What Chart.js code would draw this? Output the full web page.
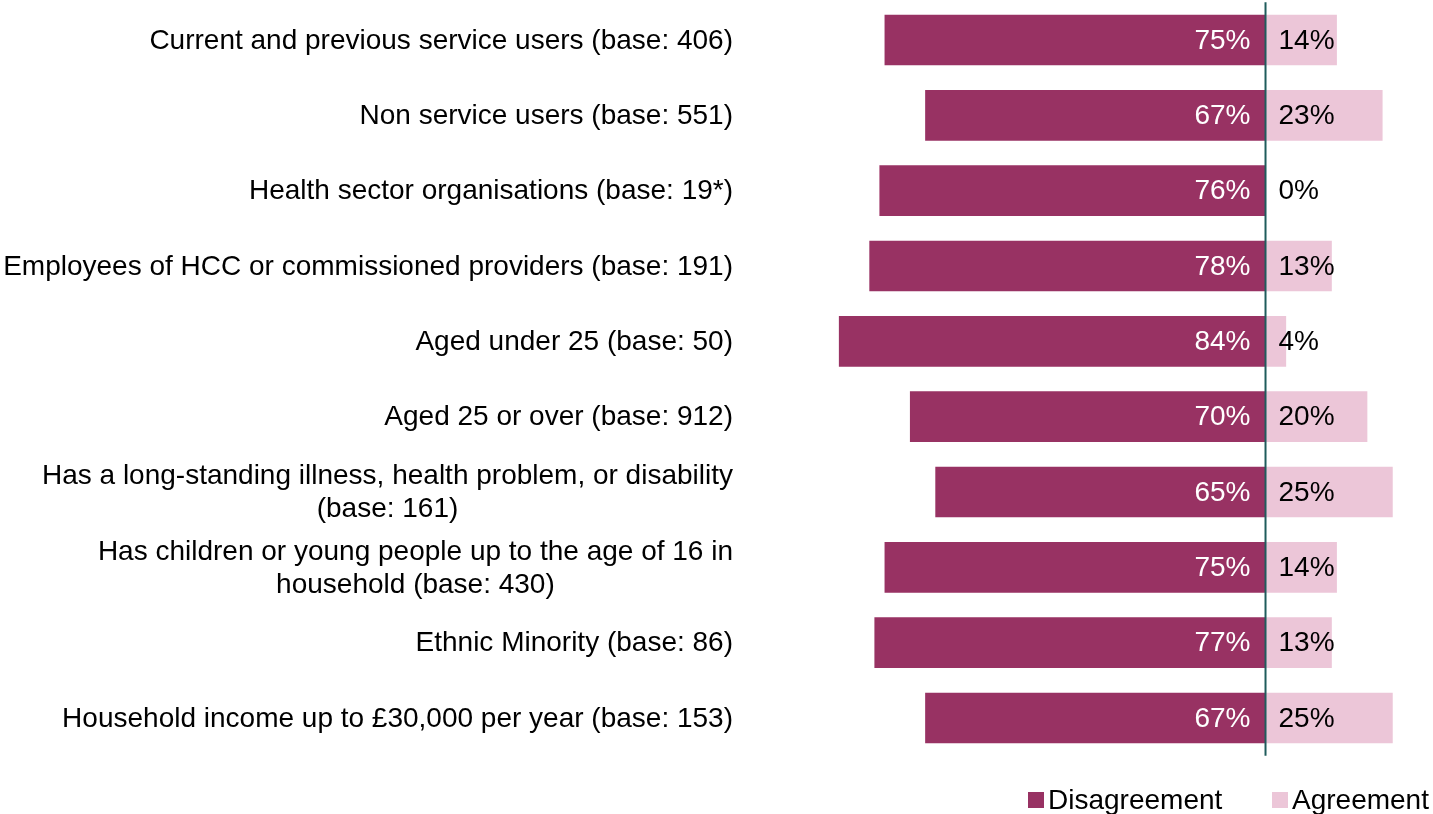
<!DOCTYPE html>
<html>
<head>
<meta charset="utf-8">
<script src="https://cdn.jsdelivr.net/npm/chart.js@4/dist/chart.umd.min.js"></script>
<style>
html,body{margin:0;padding:0;background:#fff;}
#wrap{width:1433px;height:814px;position:relative;}
</style>
</head>
<body>
<div id="wrap"><canvas id="c"></canvas></div>
<script>
const categories = [
  ["Current and previous service users (base: 406)"],
  ["Non service users (base: 551)"],
  ["Health sector organisations (base: 19*)"],
  ["Employees of HCC or commissioned providers (base: 191)"],
  ["Aged under 25 (base: 50)"],
  ["Aged 25 or over (base: 912)"],
  ["Has a long-standing illness, health problem, or disability", "(base: 161)"],
  ["Has children or young people up to the age of 16 in", "household (base: 430)"],
  ["Ethnic Minority (base: 86)"],
  ["Household income up to £30,000 per year (base: 153)"]
];
const disagreement = [75, 67, 76, 78, 84, 70, 65, 75, 77, 67];
const agreement = [14, 23, 0, 13, 4, 20, 25, 14, 13, 25];
const seriesNames = ["Disagreement", "Agreement"];

const COL_DIS = '#983263';
const COL_AGR = '#ECC6D8';
const FONT = '28px "Liberation Sans", Arial, sans-serif';
const FONT_VAL = '28px "Liberation Sans", Arial, sans-serif';

const customDraw = {
  id: 'customDraw',
  afterDatasetsDraw(chart) {
    const ctx = chart.ctx;
    const x = chart.scales.x, y = chart.scales.y;
    const area = chart.chartArea;
    ctx.save();
    ctx.textBaseline = 'middle';
    // zero line
    const x0 = x.getPixelForValue(0);
    ctx.strokeStyle = '#1F5C5C';
    ctx.lineWidth = 2;
    ctx.beginPath();
    ctx.moveTo(x0, area.top);
    ctx.lineTo(x0, area.bottom);
    ctx.stroke();
    // data labels
    ctx.font = FONT_VAL;
    for (let i = 0; i < categories.length; i++) {
      const yc = y.getPixelForValue(i);
      ctx.fillStyle = '#ffffff';
      ctx.textAlign = 'right';
      ctx.fillText(disagreement[i] + '%', x0 - 15, yc + 1);
      ctx.fillStyle = '#000000';
      ctx.textAlign = 'left';
      ctx.fillText(agreement[i] + '%', x0 + 13, yc + 1);
    }
    // category labels (block right-aligned, lines centered)
    ctx.font = FONT;
    const rightEdge = 733;
    const lh = 33;
    for (let i = 0; i < categories.length; i++) {
      const lines = categories[i];
      const yc = y.getPixelForValue(i);
      let w = 0;
      lines.forEach(l => { w = Math.max(w, ctx.measureText(l).width); });
      const cx = rightEdge - w / 2;
      ctx.fillStyle = '#000000';
      ctx.textAlign = 'center';
      const startY = yc - (lines.length - 1) * lh / 2;
      lines.forEach((l, k) => ctx.fillText(l, cx, startY + k * lh + 1));
    }
    // legend
    const ly = 800;
    const items = [
      {name: seriesNames[0], color: COL_DIS, x: 1028},
      {name: seriesNames[1], color: COL_AGR, x: 1272}
    ];
    items.forEach(it => {
      ctx.fillStyle = it.color;
      ctx.fillRect(it.x, ly - 8, 16, 16);
      ctx.fillStyle = '#000000';
      ctx.textAlign = 'left';
      ctx.fillText(it.name, it.x + 20, ly + 1);
    });
    ctx.restore();
  }
};

new Chart(document.getElementById('c'), {
  type: 'bar',
  data: {
    labels: categories,
    datasets: [
      {label: seriesNames[0], data: disagreement.map(v => -v), backgroundColor: COL_DIS, barThickness: 50, stack: 's'},
      {label: seriesNames[1], data: agreement, backgroundColor: COL_AGR, barThickness: 50, stack: 's'}
    ]
  },
  options: {
    indexAxis: 'y',
    responsive: true,
    maintainAspectRatio: false,
    animation: false,
    layout: {padding: {left: 758, right: 0, top: 2.33, bottom: 58.33}},
    scales: {
      x: {display: false, stacked: true, min: -100, max: 33},
      y: {display: false, stacked: true, offset: true}
    },
    plugins: {legend: {display: false}, tooltip: {enabled: false}}
  },
  plugins: [customDraw]
});
</script>
</body>
</html>
